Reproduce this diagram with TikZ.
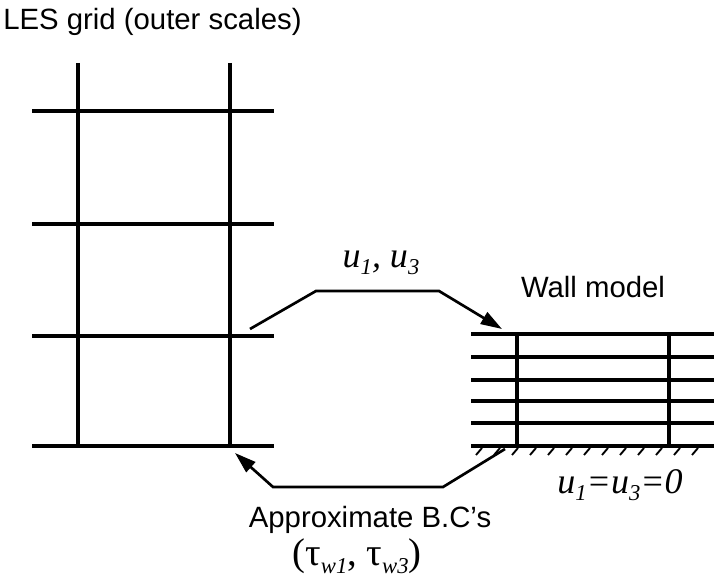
\documentclass[tikz,border=0pt]{standalone}
\usepackage{fontspec}
\setmainfont{Liberation Sans}
\newfontfamily\timesfont{Liberation Serif}
\usetikzlibrary{arrows.meta, positioning}
\newcommand{\lowsub}[1]{\raisebox{-0.45ex}{\fontsize{17}{17}\selectfont #1}}

\begin{document}
\begin{tikzpicture}[
    x=0.75pt, y=-0.75pt,
    gridline/.style={line width=2.5pt},
    wallline/.style={line width=2.3pt},
    hatch/.style={line width=1.4pt},
    arr/.style={-{Triangle[length=16pt, width=10pt]}, line width=2pt},
    lbl/.style={font=\fontsize{22}{24}\selectfont, inner sep=0pt},
    mathlbl/.style={font=\timesfont\itshape\fontsize{27}{30}\selectfont, inner sep=0pt}
]
\useasboundingbox (0,0) rectangle (714,580);

% LES grid
\foreach \y in {111,224,336,446} \draw[gridline] (32,\y) -- (274,\y);
\foreach \x in {78,230} \draw[gridline] (\x,63) -- (\x,446);

% wall model grid
\foreach \y in {334,357,380,401,423,446} \draw[wallline] (471,\y) -- (714,\y);
\draw[gridline] (471,334) -- (714,334);
\foreach \x in {517,669} \draw[wallline] (\x,334) -- (\x,446);
\foreach \x in {480,498,...,712} \draw[hatch] (\x-4,455) -- (\x+2,448);

\node[lbl, anchor=west] (lesgrid) at (3,22) {LES grid (outer scales)};
\node[lbl] (wallmodel) at (593,287) {Wall model};
\node[mathlbl] (vel) at (381,263) {u\lowsub{1}, u\lowsub{3}};
\node[lbl] (approx) at (370,520) {Approximate B.C’s};
\node[mathlbl, font=\timesfont\fontsize{29}{30}\selectfont] (tau) at (357,556) {(τ\lowsub{\itshape w1}, τ\lowsub{\itshape w3})};
\node[mathlbl] (noslip) at (620,485) {u\lowsub{1}=u\lowsub{3}=0};

% exchange between grids
\coordinate (lesout) at (250,329);
\coordinate (wallin) at (502,329);
\coordinate (wallout) at (505,449);
\coordinate (lesin) at (235,453);
\draw[arr] (lesout) -- ++(66,-38) -- ++(123,0) -- (wallin);
\draw[arr] (wallout) -- ++(-62,38) -- ++(-170,0) -- (lesin);
\end{tikzpicture}
\end{document}
